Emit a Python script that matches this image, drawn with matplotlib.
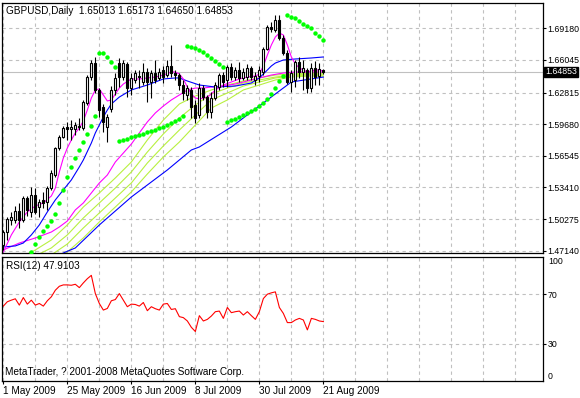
import matplotlib
matplotlib.use('Agg')
import matplotlib.pyplot as plt
import matplotlib.transforms as mtransforms

# Daily GBPUSD bars, 1 May 2009 .. 21 Aug 2009
opens = [1.4771, 1.4899, 1.5018, 1.5018, 1.5108, 1.5018, 1.5236, 1.5098, 1.5266, 1.5147,
         1.5217, 1.5197, 1.5335, 1.5464, 1.5732, 1.5841, 1.5940, 1.5920, 1.5920, 1.5940,
         1.5930, 1.6178, 1.6435, 1.6574, 1.6307, 1.6138, 1.5940, 1.6118, 1.6307, 1.6574,
         1.6435, 1.6564, 1.6326, 1.6406, 1.6445, 1.6386, 1.6485, 1.6386, 1.6475, 1.6426,
         1.6505, 1.6455, 1.6545, 1.6475, 1.6455, 1.6356, 1.6257, 1.6307, 1.6158, 1.6059,
         1.6326, 1.6237, 1.6089, 1.6227, 1.6336, 1.6455, 1.6406, 1.6535, 1.6435, 1.6505,
         1.6426, 1.6435, 1.6525, 1.6406, 1.6445, 1.6485, 1.6713, 1.6931, 1.6901, 1.7000,
         1.6822, 1.6673, 1.6386, 1.6406, 1.6584, 1.6485, 1.6505, 1.6326, 1.6525, 1.6445,
         1.65013]
highs = [1.4919, 1.5048, 1.5098, 1.5157, 1.5187, 1.5256, 1.5256, 1.5345, 1.5335, 1.5226,
         1.5296, 1.5355, 1.5514, 1.5742, 1.5861, 1.5950, 1.5990, 1.6009, 1.5990, 1.6029,
         1.6208, 1.6455, 1.6604, 1.6634, 1.6326, 1.6168, 1.6069, 1.6346, 1.6475, 1.6624,
         1.6604, 1.6584, 1.6475, 1.6505, 1.6505, 1.6574, 1.6525, 1.6505, 1.6604, 1.6525,
         1.6545, 1.6604, 1.6753, 1.6505, 1.6475, 1.6406, 1.6356, 1.6336, 1.6208, 1.6376,
         1.6356, 1.6257, 1.6287, 1.6386, 1.6475, 1.6485, 1.6554, 1.6574, 1.6535, 1.6584,
         1.6525, 1.6564, 1.6545, 1.6485, 1.6545, 1.6733, 1.6951, 1.6980, 1.7050, 1.7050,
         1.6852, 1.6703, 1.6505, 1.6604, 1.6634, 1.6604, 1.6525, 1.6574, 1.6594, 1.6574,
         1.65173]
lows = [1.4721, 1.4820, 1.4969, 1.4989, 1.4939, 1.4999, 1.5058, 1.5048, 1.5078, 1.5048,
        1.5137, 1.5118, 1.5316, 1.5444, 1.5712, 1.5831, 1.5811, 1.5811, 1.5861, 1.5910,
        1.5910, 1.6158, 1.6406, 1.6277, 1.6039, 1.5890, 1.5791, 1.6089, 1.6257, 1.6336,
        1.6406, 1.6237, 1.6257, 1.6376, 1.6326, 1.6356, 1.6188, 1.6227, 1.6376, 1.6406,
        1.6376, 1.6435, 1.6435, 1.6406, 1.6307, 1.6208, 1.6208, 1.6029, 1.5980, 1.6029,
        1.6208, 1.6029, 1.6029, 1.6208, 1.6307, 1.6336, 1.6336, 1.6406, 1.6406, 1.6386,
        1.6406, 1.6406, 1.6406, 1.6356, 1.6386, 1.6455, 1.6703, 1.6881, 1.6881, 1.6802,
        1.6654, 1.6366, 1.6287, 1.6336, 1.6426, 1.6307, 1.6277, 1.6287, 1.6356, 1.6356,
        1.64650]
closes = [1.4899, 1.5028, 1.5048, 1.5108, 1.5018, 1.5236, 1.5118, 1.5266, 1.5098, 1.5197,
          1.5187, 1.5335, 1.5484, 1.5732, 1.5841, 1.5930, 1.5920, 1.5940, 1.5960, 1.5950,
          1.6188, 1.6435, 1.6574, 1.6307, 1.6108, 1.5990, 1.6039, 1.6307, 1.6426, 1.6435,
          1.6574, 1.6326, 1.6426, 1.6475, 1.6435, 1.6485, 1.6386, 1.6475, 1.6406, 1.6485,
          1.6435, 1.6545, 1.6475, 1.6455, 1.6356, 1.6277, 1.6326, 1.6138, 1.6029, 1.6326,
          1.6237, 1.6089, 1.6227, 1.6356, 1.6455, 1.6386, 1.6535, 1.6435, 1.6505, 1.6426,
          1.6485, 1.6525, 1.6435, 1.6445, 1.6505, 1.6713, 1.6931, 1.6911, 1.7000, 1.6822,
          1.6673, 1.6386, 1.6475, 1.6584, 1.6485, 1.6525, 1.6326, 1.6525, 1.6435, 1.6515,
          1.64853]

date_pos = [0, 16, 32, 48, 64, 80]
date_labels = ['1 May 2009', '25 May 2009', '16 Jun 2009', '8 Jul 2009', '30 Jul 2009', '21 Aug 2009']

# indicator lines read at sample bars
ma_fast_x = [0, 2, 4, 6, 8, 10, 12, 13, 14, 15, 16, 17, 18, 19, 20, 21, 22, 23, 24, 25, 26, 27, 28, 29, 30,
             32, 34, 36, 38, 40, 42, 43, 44, 45, 46, 47, 48, 49, 50, 51, 52, 53, 55, 57, 59, 61, 63, 64,
             65, 66, 67, 68, 69, 70, 71, 72, 73, 74, 75, 76, 77, 78, 79, 80]
ma_fast = [1.4701, 1.4870, 1.4999, 1.5098, 1.5157, 1.5187, 1.5256, 1.5335, 1.5494, 1.5633, 1.5732,
           1.5811, 1.5881, 1.5930, 1.6000, 1.6108, 1.6227, 1.6307, 1.6317, 1.6257, 1.6198, 1.6208,
           1.6267, 1.6326, 1.6366, 1.6416, 1.6416, 1.6426, 1.6435, 1.6455, 1.6485, 1.6485, 1.6465,
           1.6416, 1.6336, 1.6267, 1.6227, 1.6218, 1.6227, 1.6237, 1.6267, 1.6307, 1.6356, 1.6386,
           1.6416, 1.6435, 1.6445, 1.6465, 1.6545, 1.6653, 1.6753, 1.6832, 1.6871, 1.6852, 1.6753,
           1.6634, 1.6564, 1.6525, 1.6505, 1.6485, 1.6495, 1.6505, 1.6505, 1.6495]

ma_slow_x = [0, 4, 8, 12, 14, 16, 18, 20, 22, 24, 26, 28, 30, 32, 34, 36, 38, 40, 42, 44, 46, 48, 50,
             52, 55, 58, 61, 64, 67, 70, 73, 76, 80]
ma_slow = [1.4721, 1.4790, 1.4840, 1.4899, 1.4949, 1.5008, 1.5118, 1.5187, 1.5286, 1.5385, 1.5464,
           1.5593, 1.5682, 1.5771, 1.5881, 1.5990, 1.6079, 1.6148, 1.6208, 1.6257, 1.6307, 1.6326,
           1.6326, 1.6336, 1.6346, 1.6366, 1.6396, 1.6426, 1.6455, 1.6475, 1.6485, 1.6485, 1.6485]

blue_a_x = [0, 3, 5, 7, 9, 11, 13, 15, 17, 19, 20, 22, 23, 24, 25, 26, 27, 29, 32, 36, 40, 43, 44, 46,
            49, 53, 58, 62, 64, 65, 66, 67, 68, 70, 73, 77, 80]
blue_a = [1.4751, 1.4761, 1.4790, 1.4870, 1.4969, 1.5098, 1.5217, 1.5316, 1.5415, 1.5544, 1.5613,
          1.5781, 1.5881, 1.5960, 1.6039, 1.6108, 1.6168, 1.6237, 1.6307, 1.6356, 1.6416, 1.6426,
          1.6426, 1.6396, 1.6356, 1.6336, 1.6346, 1.6376, 1.6426, 1.6465, 1.6505, 1.6545, 1.6574,
          1.6604, 1.6614, 1.6624, 1.6634]

blue_b_x = [0, 8, 15, 18, 24, 32, 41, 47, 49, 57, 66, 72, 80]
blue_b = [1.4443, 1.4572, 1.4691, 1.4741, 1.4969, 1.5246, 1.5514, 1.5712, 1.5742, 1.5940, 1.6208,
          1.6386, 1.6435]

ribbon_x = [0, 4, 8, 12, 16, 20, 24, 28, 32, 36, 40, 44, 48, 52, 56, 60, 64, 68, 72, 76, 80]
ribbon_1 = [1.4602, 1.4642, 1.4721, 1.4820, 1.4969, 1.5147, 1.5286, 1.5435, 1.5593, 1.5811, 1.6009,
            1.6168, 1.6247, 1.6307, 1.6356, 1.6396, 1.6426, 1.6455, 1.6465, 1.6475, 1.6475]
ribbon_2 = [1.4543, 1.4592, 1.4662, 1.4741, 1.4870, 1.5038, 1.5187, 1.5335, 1.5494, 1.5692, 1.5871,
            1.6029, 1.6158, 1.6267, 1.6326, 1.6376, 1.6406, 1.6435, 1.6455, 1.6465, 1.6465]
ribbon_3 = [1.4473, 1.4543, 1.4602, 1.4672, 1.4780, 1.4939, 1.5088, 1.5236, 1.5385, 1.5583, 1.5752,
            1.5910, 1.6059, 1.6208, 1.6277, 1.6346, 1.6386, 1.6426, 1.6445, 1.6455, 1.6455]
ribbon_4 = [1.4404, 1.4463, 1.4523, 1.4602, 1.4701, 1.4840, 1.4999, 1.5147, 1.5296, 1.5474, 1.5643,
            1.5791, 1.5960, 1.6128, 1.6208, 1.6307, 1.6356, 1.6406, 1.6435, 1.6445, 1.6445]

# parabolic SAR, starts at bar 7
sar_start = 7
sar = [1.4701, 1.4780, 1.4850, 1.4909, 1.4959, 1.5008, 1.5078, 1.5187, 1.5316, 1.5445, 1.5544,
       1.5633, 1.5712, 1.5791, 1.5871, 1.5950, 1.6049,
       1.6673, 1.6673, 1.6634, 1.6584, 1.6535,
       1.5801, 1.5811, 1.5821, 1.5841, 1.5851, 1.5861, 1.5871, 1.5890, 1.5900, 1.5910, 1.5930,
       1.5940, 1.5960, 1.5980, 1.6000, 1.6019, 1.6049,
       1.6743, 1.6733, 1.6723, 1.6703, 1.6683, 1.6653, 1.6624, 1.6594, 1.6564, 1.6535,
       1.5990, 1.6009, 1.6019, 1.6039, 1.6059, 1.6079, 1.6099, 1.6118, 1.6148, 1.6178, 1.6218,
       1.6267, 1.6326, 1.6396, 1.6445,
       1.7050, 1.7030, 1.7020, 1.6990, 1.6961, 1.6941, 1.6921, 1.6871, 1.6842, 1.6802]

rsi = [60.4, 63.9, 65.2, 66.3, 61.2, 67.3, 62.0, 65.2, 61.2, 62.5, 60.4, 64.7, 67.9, 73.2, 76.4,
       77.5, 77.5, 77.2, 78.0, 75.3, 79.1, 82.5, 85.2, 70.5, 62.5, 57.2, 58.5, 64.7, 65.7, 70.5,
       65.2, 59.9, 62.0, 61.7, 60.4, 63.3, 56.7, 59.9, 58.3, 57.2, 62.0, 62.5, 57.7, 58.3, 51.9,
       51.1, 48.4, 43.3, 39.9, 52.7, 48.4, 49.7, 52.4, 55.9, 56.4, 50.5, 59.3, 55.1, 55.9, 56.4,
       53.2, 55.9, 52.7, 49.7, 55.9, 66.5, 70.0, 71.1, 71.9, 59.3, 54.5, 47.1, 47.1, 49.2, 50.5,
       49.2, 41.2, 50.5, 49.7, 48.4, 47.9103]

price_ticks = [1.47140, 1.50275, 1.53410, 1.56545, 1.59680, 1.62815, 1.66045, 1.69180]
last_price = 1.64853

plt.rcParams['font.family'] = ['Liberation Sans', 'DejaVu Sans']

W, H = 580, 398
fig = plt.figure(figsize=(W / 100, H / 100), dpi=100)
fs = 7.2
fs_axis = 6.3
grid_kw = dict(color='#c0c0c0', lw=0.8, ls=(0, (3, 3)), zorder=0)

ax = fig.add_axes([2 / W, 1 - 253 / H, 541 / W, 250 / H])
ax2 = fig.add_axes([2 / W, 1 - 381 / H, 541 / W, 124 / H])

xmin, xmax = -0.33, 134.9
n = len(closes)
xs = list(range(n))

# main panel
for v in range(0, 136, 8):
    ax.axvline(v, **grid_kw)
    ax2.axvline(v, **grid_kw)
for p in price_ticks:
    ax.axhline(p, **grid_kw)
ax.axhline(last_price, color='#c0c0c0', lw=0.8, zorder=0.5)

for rib in [ribbon_4, ribbon_3, ribbon_2, ribbon_1]:
    ax.plot(ribbon_x, rib, color='#b8f040', lw=0.8, zorder=1)
ax.plot(blue_b_x, blue_b, color='#0000ff', lw=0.8, zorder=1)
ax.plot(ma_slow_x, ma_slow, color='#ff00ff', lw=0.8, zorder=1)
ax.plot(blue_a_x, blue_a, color='#0000ff', lw=0.8, zorder=1)
ax.plot(ma_fast_x, ma_fast, color='#ff00ff', lw=0.8, zorder=1)

ax.vlines(xs, lows, highs, color='black', lw=0.8, zorder=2)
bottoms = [min(o, c) for o, c in zip(opens, closes)]
heights = [max(abs(c - o), 0.0003) for o, c in zip(opens, closes)]
colors = ['white' if c >= o else 'black' for o, c in zip(opens, closes)]
ax.bar(xs, heights, bottom=bottoms, width=0.55, color=colors, edgecolor='black',
       linewidth=0.8, zorder=3)

ax.plot(range(sar_start, sar_start + len(sar)), sar, ls='none', marker='o',
        markersize=3.2, color='#00ff00', markeredgewidth=0, zorder=4)

ax.set_xlim(xmin, xmax)
ax.set_ylim(1.4691, 1.7169)
ax.set_xticks([])
ax.yaxis.tick_right()
ax.set_yticks(price_ticks)
ax.set_yticklabels(['%.5f' % p for p in price_ticks])
ax.tick_params(axis='y', length=2.2, width=0.8, pad=1.0, labelsize=fs_axis)
for s in ax.spines.values():
    s.set_linewidth(0.9)

trans = mtransforms.blended_transform_factory(ax.transAxes, ax.transData)
ax.text(1.004, last_price, '%.5f' % last_price, transform=trans, color='white', fontsize=fs_axis,
        va='center', ha='left',
        bbox=dict(boxstyle='square,pad=0.1', fc='black', ec='black'))

fig.text(6 / W, 1 - 10.5 / H, 'GBPUSD,Daily  1.65013 1.65173 1.64650 1.64853', fontsize=fs,
         va='center', ha='left')

# RSI panel
ax2.axhline(70, **grid_kw)
ax2.axhline(30, **grid_kw)
ax2.plot(xs, rsi, color='#ff0000', lw=0.8, zorder=2)
ax2.set_xlim(xmin, xmax)
ax2.set_ylim(0, 100)
ax2.yaxis.tick_right()
ax2.set_yticks([30, 70])
ax2.set_yticklabels(['30', '70'])
ax2.tick_params(axis='y', length=2.2, width=0.8, pad=1.0, labelsize=fs_axis)
ax2.set_xticks(date_pos)
ax2.set_xticklabels(date_labels, ha='left')
ax2.tick_params(axis='x', length=2.2, width=0.8, pad=1.5, labelsize=fs)
for s in ax2.spines.values():
    s.set_linewidth(0.9)
trans2 = mtransforms.blended_transform_factory(ax2.transAxes, ax2.transData)
ax2.text(1.009, 100, '100', transform=trans2, fontsize=fs_axis, va='top', ha='left')
ax2.text(1.009, 0, '0', transform=trans2, fontsize=fs_axis, va='bottom', ha='left')

fig.text(6 / W, 1 - 266 / H, 'RSI(12) 47.9103', fontsize=fs, va='center', ha='left')
fig.text(5 / W, 1 - 372 / H, 'MetaTrader, ? 2001-2008 MetaQuotes Software Corp.', fontsize=fs,
         va='center', ha='left')

fig.savefig('out.png', dpi=100)
